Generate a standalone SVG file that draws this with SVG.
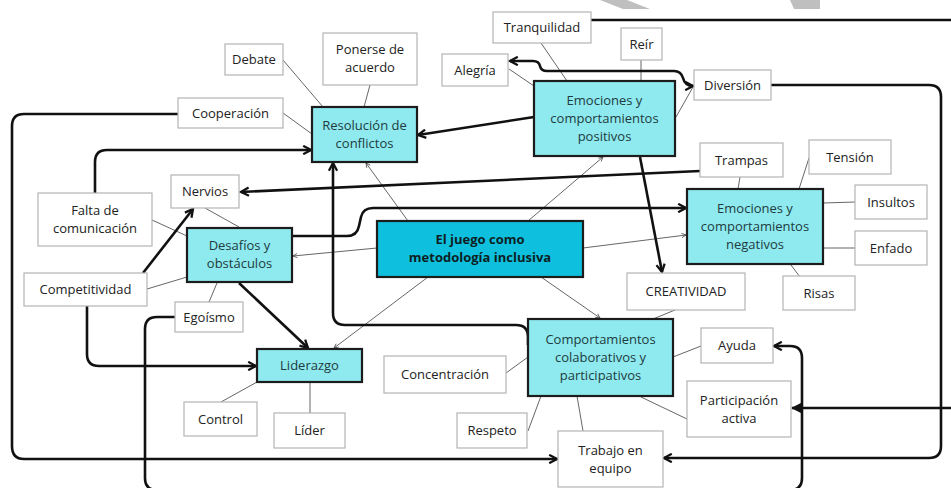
<svg xmlns="http://www.w3.org/2000/svg" width="951" height="488" viewBox="0 0 951 488">
  <style>
    text { font-family: "Open Sans", "Noto Sans", "Liberation Sans", sans-serif; font-size: 13px; fill: #222; text-anchor: middle; }
    .leaf rect { fill: #ffffff; stroke: #b4b4b4; stroke-width: 1.2; }
    .sub rect { fill: #8eeaef; stroke: #1c1c1c; stroke-width: 2.2; }
    .sub text { fill: #1f3b40; }
    .main rect { fill: #0ec0de; stroke: #1c1c1c; stroke-width: 2.2; }
    .main text { font-weight: bold; fill: #0d1f24; }
    .thin { fill: none; stroke: #555; stroke-width: 0.9; }
    .thick { fill: none; stroke: #111; stroke-width: 2.6; stroke-linejoin: round; }
    .mark { fill: #bfbfbf; }
  </style>
  <defs>
    <marker id="chev" viewBox="0 0 10 10" refX="8.5" refY="5" markerWidth="4" markerHeight="4" orient="auto-start-reverse" markerUnits="strokeWidth">
      <path d="M1,1 L8.5,5 L1,9" fill="none" stroke="#111" stroke-width="2.2" stroke-linejoin="miter"/>
    </marker>
    <marker id="tri" viewBox="0 0 10 10" refX="9" refY="5" markerWidth="4" markerHeight="4" orient="auto" markerUnits="strokeWidth">
      <path d="M0,0 L10,5 L0,10 Z" fill="#111"/>
    </marker>
    <marker id="small" viewBox="0 0 10 10" refX="9" refY="5" markerWidth="6" markerHeight="6" orient="auto" markerUnits="strokeWidth">
      <path d="M1,1 L9,5 L1,9" fill="none" stroke="#444" stroke-width="1.4"/>
    </marker>
  </defs>

  <rect width="951" height="488" fill="#ffffff"/>

  <!-- grey marks along the top edge -->
  <polygon class="mark" points="600,0 627,0 650,9 623,9"/>
  <polygon class="mark" points="790,0 820,0 820,9 794,9"/>

  <!-- connectors -->
  <g id="connectors">
    <!-- thin links from the central topic -->
    <line class="thin" x1="408" y1="221" x2="366" y2="163" marker-end="url(#small)"/>
    <line class="thin" x1="528" y1="221" x2="603" y2="157" marker-end="url(#small)"/>
    <line class="thin" x1="377" y1="248" x2="293" y2="256" marker-end="url(#small)"/>
    <line class="thin" x1="583" y1="248" x2="686" y2="235" marker-end="url(#small)"/>
    <line class="thin" x1="541" y1="277" x2="600" y2="318" marker-end="url(#small)"/>
    <line class="thin" x1="428" y1="277" x2="334" y2="348" marker-end="url(#small)"/>

    <!-- thin links to the leaves -->
    <line class="thin" x1="283" y1="60" x2="323" y2="107"/>
    <line class="thin" x1="370" y1="85" x2="364" y2="107"/>
    <line class="thin" x1="283" y1="113" x2="312" y2="134"/>
    <line class="thin" x1="509" y1="69" x2="534" y2="86"/>
    <line class="thin" x1="541" y1="43" x2="567" y2="81"/>
    <line class="thin" x1="641" y1="60" x2="641" y2="81"/>
    <line class="thin" x1="693" y1="87" x2="676" y2="117"/>
    <line class="thin" x1="205" y1="208" x2="239" y2="227"/>
    <line class="thin" x1="152" y1="220" x2="187" y2="236"/>
    <line class="thin" x1="147" y1="289" x2="187" y2="277"/>
    <line class="thin" x1="209" y1="302" x2="217" y2="283"/>
    <line class="thin" x1="740" y1="177" x2="738" y2="189"/>
    <line class="thin" x1="809" y1="158" x2="799" y2="189"/>
    <line class="thin" x1="823" y1="203" x2="855" y2="202"/>
    <line class="thin" x1="823" y1="248" x2="855" y2="248"/>
    <line class="thin" x1="791" y1="265" x2="800" y2="277"/>
    <line class="thin" x1="675" y1="310" x2="653" y2="319"/>
    <line class="thin" x1="257" y1="382" x2="221" y2="402"/>
    <line class="thin" x1="310" y1="382" x2="310" y2="413"/>
    <line class="thin" x1="506" y1="373" x2="528" y2="357"/>
    <line class="thin" x1="528" y1="431" x2="541" y2="396"/>
    <line class="thin" x1="577" y1="396" x2="583" y2="431"/>
    <line class="thin" x1="673" y1="357" x2="701" y2="346"/>
    <line class="thin" x1="641" y1="397" x2="687" y2="419"/>

    <!-- heavy cross links -->
    <path class="thick" d="M534,117 L418,135" marker-end="url(#chev)"/>
    <path class="thick" d="M510,61 H533 Q539,61 540,66 Q541,71 547,71 H674 Q681,71 683,78 Q685,86 693,86" marker-start="url(#chev)" marker-end="url(#chev)"/>
    <path class="thick" d="M591,20 H960"/>
    <path class="thick" d="M771,85 H929 Q941,85 941,97 V446 Q941,458 929,458 H664" marker-end="url(#chev)"/>
    <path class="thick" d="M960,408 H792" marker-end="url(#tri)"/>
    <path class="thick" d="M640,157 L662,272" marker-end="url(#chev)"/>
    <path class="thick" d="M700,171 L241,192" marker-end="url(#chev)"/>
    <path class="thick" d="M292,236 H347 Q357,236 359,226 L361,217 Q363,208 373,208 H686" marker-end="url(#chev)"/>
    <path class="thick" d="M143,273 L193,209" marker-end="url(#chev)"/>
    <path class="thick" d="M95,193 V162 Q95,150 107,150 H311" marker-end="url(#chev)"/>
    <path class="thick" d="M178,114 H24 Q12,114 12,126 V446 Q12,459 24,459 H557" marker-end="url(#chev)"/>
    <path class="thick" d="M175,317 H157 Q145,317 145,329 V478 Q145,490 157,490 H790 Q802,490 802,478 V358 Q802,346 790,346 H774" marker-end="url(#chev)"/>
    <path class="thick" d="M87,306 V354 Q87,366 99,366 H256" marker-end="url(#chev)"/>
    <path class="thick" d="M239,283 L308,348" marker-end="url(#chev)"/>
    <path class="thick" d="M528,345 V337 Q528,325 516,325 H345 Q333,325 333,313 V163" marker-end="url(#chev)"/>
  </g>

  <!-- central topic -->
  <g id="central" class="main">
    <rect x="377" y="221" width="206" height="56"/>
    <text x="480" y="244">El juego como</text>
    <text x="480" y="262">metodología inclusiva</text>
  </g>

  <!-- second-level topics -->
  <g id="resolucion" class="sub">
    <rect x="312" y="107" width="105" height="55"/>
    <text x="364.5" y="130">Resolución de</text>
    <text x="364.5" y="148">conflictos</text>
  </g>
  <g id="emociones-positivos" class="sub">
    <rect x="534" y="81" width="141" height="75"/>
    <text x="604.5" y="105">Emociones y</text>
    <text x="604.5" y="123">comportamientos</text>
    <text x="604.5" y="141">positivos</text>
  </g>
  <g id="desafios" class="sub">
    <rect x="187" y="228" width="105" height="54"/>
    <text x="239.5" y="250">Desafíos y</text>
    <text x="239.5" y="268">obstáculos</text>
  </g>
  <g id="emociones-negativos" class="sub">
    <rect x="687" y="189" width="136" height="75"/>
    <text x="755" y="213">Emociones y</text>
    <text x="755" y="231">comportamientos</text>
    <text x="755" y="249">negativos</text>
  </g>
  <g id="liderazgo" class="sub">
    <rect x="257" y="349" width="105" height="33"/>
    <text x="309.5" y="370">Liderazgo</text>
  </g>
  <g id="comportamientos" class="sub">
    <rect x="528" y="319" width="145" height="77"/>
    <text x="600.5" y="344">Comportamientos</text>
    <text x="600.5" y="362">colaborativos y</text>
    <text x="600.5" y="380">participativos</text>
  </g>

  <!-- leaves -->
  <g id="debate" class="leaf"><rect x="225" y="44" width="58" height="31"/><text x="254" y="64">Debate</text></g>
  <g id="ponerse" class="leaf"><rect x="323" y="33" width="94" height="52"/><text x="370" y="54">Ponerse de</text><text x="370" y="72">acuerdo</text></g>
  <g id="cooperacion" class="leaf"><rect x="178" y="98" width="105" height="30"/><text x="230.5" y="118">Cooperación</text></g>
  <g id="alegria" class="leaf"><rect x="442" y="54" width="66" height="32"/><text x="475" y="75">Alegría</text></g>
  <g id="tranquilidad" class="leaf"><rect x="493" y="12" width="98" height="31"/><text x="542" y="32">Tranquilidad</text></g>
  <g id="reir" class="leaf"><rect x="621" y="28" width="41" height="32"/><text x="641.5" y="49">Reír</text></g>
  <g id="diversion" class="leaf"><rect x="694" y="70" width="77" height="30"/><text x="732.5" y="90">Diversión</text></g>
  <g id="nervios" class="leaf"><rect x="171" y="175" width="68" height="33"/><text x="205" y="196">Nervios</text></g>
  <g id="falta" class="leaf"><rect x="38" y="193" width="114" height="53"/><text x="95" y="215">Falta de</text><text x="95" y="233">comunicación</text></g>
  <g id="competitividad" class="leaf"><rect x="24" y="273" width="123" height="33"/><text x="85.5" y="294">Competitividad</text></g>
  <g id="egoismo" class="leaf"><rect x="175" y="302" width="68" height="30"/><text x="209" y="322">Egoísmo</text></g>
  <g id="trampas" class="leaf"><rect x="700" y="143" width="83" height="34"/><text x="741.5" y="165">Trampas</text></g>
  <g id="tension" class="leaf"><rect x="809" y="140" width="82" height="34"/><text x="850" y="162">Tensión</text></g>
  <g id="insultos" class="leaf"><rect x="855" y="185" width="72" height="34"/><text x="891" y="207">Insultos</text></g>
  <g id="enfado" class="leaf"><rect x="855" y="231" width="72" height="34"/><text x="891" y="253">Enfado</text></g>
  <g id="risas" class="leaf"><rect x="783" y="276" width="72" height="34"/><text x="819" y="298">Risas</text></g>
  <g id="creatividad" class="leaf"><rect x="627" y="273" width="118" height="37"/><text x="686" y="296">CREATIVIDAD</text></g>
  <g id="control" class="leaf"><rect x="184" y="402" width="73" height="34"/><text x="220.5" y="424">Control</text></g>
  <g id="lider" class="leaf"><rect x="274" y="413" width="71" height="35"/><text x="309.5" y="435">Líder</text></g>
  <g id="concentracion" class="leaf"><rect x="384" y="356" width="122" height="37"/><text x="445" y="379">Concentración</text></g>
  <g id="respeto" class="leaf"><rect x="457" y="413" width="70" height="35"/><text x="492" y="435">Respeto</text></g>
  <g id="ayuda" class="leaf"><rect x="701" y="328" width="72" height="35"/><text x="737" y="350">Ayuda</text></g>
  <g id="participacion" class="leaf"><rect x="687" y="381" width="104" height="56"/><text x="739" y="405">Participación</text><text x="739" y="423">activa</text></g>
  <g id="trabajo" class="leaf"><rect x="558" y="431" width="105" height="56"/><text x="610.5" y="455">Trabajo en</text><text x="610.5" y="473">equipo</text></g>
</svg>
